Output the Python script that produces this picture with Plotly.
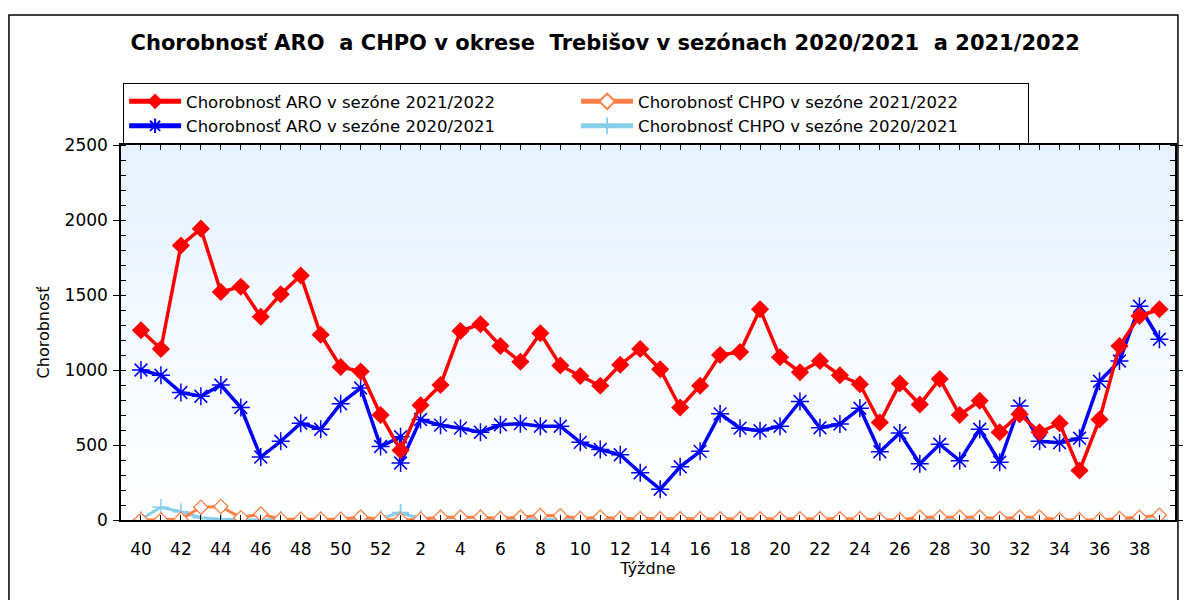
import plotly.graph_objects as go

# ---- data ----
weeks = list(range(40, 53)) + list(range(1, 40))            # x categories (2021/2022)
weeks_2021 = list(range(40, 54)) + list(range(1, 40))       # 2020/2021 season has week 53

aro_2122 = [1265, 1140, 1830, 1942, 1520, 1555, 1355, 1505, 1630, 1235, 1020, 990, 700,
            465, 765, 900, 1260, 1305, 1160, 1055, 1245, 1030, 960, 895, 1035, 1140, 1005,
            750, 895, 1100, 1120, 1405, 1085, 985, 1060, 965, 905, 650, 910, 770, 940, 700,
            795, 585, 705, 585, 645, 330, 670, 1160, 1360, 1405]
aro_2021 = [1000, 965, 850, 825, 900, 750, 420, 525, 645, 605, 775, 880, 490, 555,
            380, 670, 632, 612, 585, 635, 642, 625, 625, 518, 470, 435, 315, 205, 355,
            458, 708, 612, 595, 625, 790, 615, 640, 745, 455, 580, 375, 505, 395, 605,
            385, 760, 525, 515, 545, 925, 1060, 1425, 1205]
chpo_2122 = [0, 0, 5, 85, 90, 15, 40, 5, 5, 5, 5, 20, 5,
             0, 5, 18, 18, 18, 10, 18, 30, 28, 10, 18, 10, 10, 8, 8, 8, 8, 8, 8, 8, 8,
             8, 8, 8, 0, 0, 18, 18, 18, 18, 10, 18, 18, 0, 0, 0, 10, 18, 32]
chpo_2021 = [5, 85, 55, 15, 5, 3, 0, 5, 0, 3, 0, 0, 10, 50,
             45, 12, 15, 15, 15, 5, 3, 3, 3, 0, 0, 0, 0, 0, 0, 0, 0, 0, 0, 0, 0, 0, 0,
             0, 0, 0, 0, 3, 3, 3, 0, 0, 0, 0, 0, 0, 0, 3, 0]

title = "Chorobnosť ARO  a CHPO v okrese  Trebišov v sezónach 2020/2021  a 2021/2022"
names = ["Chorobnosť ARO v sezóne 2021/2022", "Chorobnosť CHPO v sezóne 2021/2022",
         "Chorobnosť ARO v sezóne 2020/2021", "Chorobnosť CHPO v sezóne 2020/2021"]

# slot of each week on the category axis (week 53 shares the slot of week 1)
slot = {w: i for i, w in enumerate(weeks)}
slot[53] = slot[1]
x_main = [slot[w] for w in weeks]
x_2021 = [slot[w] for w in weeks_2021]
tick_text = [str(w) if i % 2 == 0 else "" for i, w in enumerate(weeks)]

FONT = "DejaVu Sans, Verdana, sans-serif"

fig = go.Figure()
fig.add_trace(go.Scatter(x=x_2021, y=chpo_2021, name=names[3], mode="lines+markers",
                         line=dict(color="#87CEEB", width=3),
                         marker=dict(symbol="cross-thin-open", size=12,
                                     line=dict(color="#87CEEB", width=1.5)),
                         legendrank=4))
fig.add_trace(go.Scatter(x=x_2021, y=aro_2021, name=names[2], mode="lines+markers",
                         line=dict(color="#0000FF", width=3.5),
                         marker=dict(symbol="asterisk-open", size=15,
                                     line=dict(color="#0000FF", width=1.5)),
                         legendrank=3))
fig.add_trace(go.Scatter(x=x_main, y=chpo_2122, name=names[1], mode="lines+markers",
                         line=dict(color="#FF7F45", width=3),
                         marker=dict(symbol="diamond", size=11, color="white",
                                     line=dict(color="#FF7F45", width=1.3)),
                         legendrank=2))
fig.add_trace(go.Scatter(x=x_main, y=aro_2122, name=names[0], mode="lines+markers",
                         line=dict(color="#FF0000", width=3.5),
                         marker=dict(symbol="diamond", size=14, color="#FF0000"),
                         legendrank=1))

# gradient plot background (light blue at top -> white at bottom)
shapes = []
n = 40
top = (230, 242, 255)
for k in range(n):
    t = k / (n - 1)
    c = tuple(round(255 + (top[j] - 255) * t) for j in range(3))
    shapes.append(dict(type="rect", xref="x domain", yref="y domain",
                       x0=0, x1=1, y0=k / n, y1=(k + 1) / n,
                       fillcolor="rgb(%d,%d,%d)" % c, line=dict(width=0), layer="below"))
# outer chart border
shapes.append(dict(type="rect", xref="paper", yref="paper",
                   x0=-0.1063, x1=1.0028, y0=-0.26, y1=1.3467,
                   line=dict(color="black", width=1.5), fillcolor="rgba(0,0,0,0)"))

fig.update_layout(
    width=1192, height=600,
    margin=dict(l=113, r=25, t=137, b=88, autoexpand=False),
    paper_bgcolor="white", plot_bgcolor="white",
    font=dict(family=FONT, size=16, color="black"),
    title=dict(text="<b>" + title + "</b>", x=0.501, xanchor="center",
               y=0.943, yanchor="middle", font=dict(family=FONT, size=21, color="black")),
    showlegend=True,
    legend=dict(orientation="h", x=0.002, xanchor="left", y=1.165, yanchor="top",
                bordercolor="black", borderwidth=1, bgcolor="white",
                font=dict(family=FONT, size=16.5), itemwidth=52,
                entrywidth=385, entrywidthmode="pixels",
                tracegroupgap=0, itemsizing="constant"),
    shapes=shapes,
)
fig.update_xaxes(range=[-1, 51.78], tickmode="array", tickvals=x_main, ticktext=tick_text,
                 showgrid=False, zeroline=False, showline=True, linecolor="black", linewidth=1.5,
                 mirror="ticks", ticks="inside", ticklen=5, tickcolor="black",
                 ticklabelstandoff=13,
                 tickfont=dict(family=FONT, size=17),
                 title=dict(text="Týždne", standoff=5, font=dict(family=FONT, size=16)))
fig.update_yaxes(range=[0, 2500], dtick=500, showgrid=False, zeroline=False,
                 showline=True, linecolor="black", linewidth=1.5, mirror="ticks",
                 ticks="outside", ticklen=6, tickcolor="black", ticklabelstandoff=2,
                 minor=dict(dtick=100, ticks="inside", ticklen=5, tickcolor="black"),
                 tickfont=dict(family=FONT, size=17),
                 title=dict(text="Chorobnosť", standoff=11, font=dict(family=FONT, size=16)))

fig.write_html("out.html")
